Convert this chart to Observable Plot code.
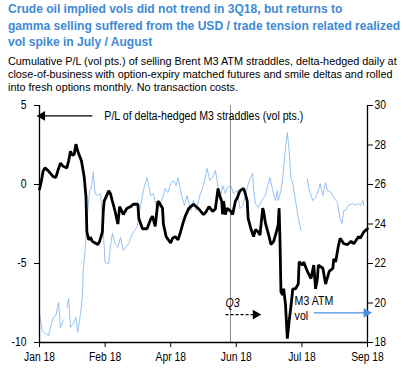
<!DOCTYPE html>
<html><head><meta charset="utf-8">
<script src="https://cdn.jsdelivr.net/npm/d3@7"></script>
<script src="https://cdn.jsdelivr.net/npm/@observablehq/plot@0.6"></script>
<style>
body{margin:0;background:#fff;width:410px;height:368px;overflow:hidden;position:relative;font-family:"Liberation Sans",Arial,sans-serif;}
#title{position:absolute;left:8px;top:1px;white-space:nowrap;color:#3d8ad6;font-weight:bold;font-size:12.8px;line-height:16.5px;transform-origin:0 0;}
#sub{position:absolute;left:8px;top:54px;white-space:nowrap;font-size:11.6px;line-height:13px;color:#000;transform-origin:0 0;}
#chart{position:absolute;left:0;top:95px;}
</style></head>
<body>
<div id="title">Crude oil implied vols did not trend in 3Q18, but returns to<br>gamma selling suffered from the USD / trade tension related realized<br>vol spike in July / August</div>
<div id="sub">Cumulative P/L (vol pts.) of selling Brent M3 ATM straddles, delta-hedged daily at<br>close-of-business with option-expiry matched futures and smile deltas and rolled<br>into fresh options monthly. No transaction costs.</div>
<div id="chart"></div>
<script>
// x axis: business-day index, labelled ticks
const tickDays = [0, 36, 72, 108, 144, 180];
const tickLabels = ["Jan 18", "Feb 18", "Apr 18", "Jun 18", "Jul 18", "Sep 18"];
const leftTicks = [-10, -5, 0, 5];
const rightTicks = [18, 20, 22, 24, 26, 28, 30];
const q3Day = 104.8;

// P/L of delta-hedged M3 straddles (vol pts.), left axis
const plDays = [0,1,2,3,5,6,7.5,9,10,11.5,13,15,16,17,18,19,20,21,23,24.5,25.5,26,27,28,29,30.5,32,33,34.5,35,35.5,38,39,40,41.5,43,44,46,48,50,51.5,54,54.5,56.5,59,61,62,63.5,65,66,67.5,68,69.5,72,73,74.5,76,77,79,80,82,83,84.5,87,88.5,90,91,93,95,96.5,98,99,100,100.5,101,102,103,105,106,107.5,108.5,110,112,113,114,114.5,116,117.5,118.5,120,121,122.5,123,124,126,127,128.5,130,131,131.5,132,132.5,133.5,134,135,136,137,138,139,140.5,142,142.5,143.5,144.5,145,147,149,150.5,151.5,152.5,153,155.5,157,159,161,161.5,162.5,164,165,167,169,171,172.5,175,176,178,180];
const plValues = [-0.3,0.2,0.85,1.05,0.85,0.7,0.5,0.45,0.85,1.35,1.15,1.05,1.5,2.1,1.85,1.9,2.55,2.1,1.5,0.5,-0.75,-3.0,-3.5,-3.35,-3.6,-3.7,-3.8,-3.6,-3.0,-1.7,-1.05,-0.4,-0.6,-1.05,-1.7,-2.5,-1.4,-1.9,-1.5,-1.4,-1.25,-1.25,-2.15,-2.8,-2.8,-2.2,-2.0,-2.65,-1.05,-1.2,-1.5,-2.5,-3.3,-3.7,-3.4,-3.3,-3.5,-3.15,-2.35,-2.0,-1.5,-1.4,-1.25,-1.5,-1.7,-1.9,-1.8,-1.4,-1.7,-1.55,-0.25,-0.75,-1.05,-1.9,-1.05,-1.9,-1.5,-1.7,-1.9,-1.05,-0.85,-0.4,-0.25,-0.6,-1.05,-2.15,-2.8,-3.3,-2.85,-3.0,-3.2,-1.5,-1.7,-2.45,-3.3,-3.8,-3.6,-3.0,-2.55,-1.5,-3.6,-6.8,-7.0,-6.6,-7.6,-9.75,-8.65,-7.7,-6.6,-6.6,-6.3,-4.9,-5.0,-5.1,-4.9,-5.5,-5.95,-5.1,-6.6,-5.95,-5.1,-5.3,-6.3,-5.5,-5.3,-4.7,-4.9,-3.9,-3.4,-3.75,-3.8,-3.6,-3.75,-3.3,-3.4,-3.0,-2.8];

// M3 ATM implied vol, right axis (null = missing)
const volDays = [0,1.5,3,5,6,7.5,9,10.5,11.5,13,14,15,16,17,18.5,20,21,22.5,23.5,24,25,26,27.5,28.5,29.5,30.5,32,33.5,34.5,36,38,39,40,41.5,43,44.5,46,49,51,53.5,55,57,59,61,62.5,64.5,66,68,69,70.5,72,73.5,75,76,78,79.5,81,83,84.5,86,88,90,92,93.5,95,96.5,97.5,99,100.5,102,103,105,106.5,108.5,110,111.5,113,114,115.5,117,117.5,118.5,120,122,124,125,126.5,128,129.5,130.5,131,132.5,133.5,135,136,137,138,139,140.5,142,143.5,145,147,148,150,151.5,153,154,155.5,157,158,160,161.5,163.5,165,166,167,168,169.5,172,173.5,175,176,177.5,178];
const volValues = [19.47,18.61,18.46,18.35,18.76,19.27,19.37,20.03,18.76,19.11,null,19.77,20.23,18.76,18.96,19.27,18.51,19.47,20.28,21.65,22.66,24.18,25.7,25.85,26.61,25.54,25.44,25.54,24.43,22.05,22.0,22.91,23.52,23.01,22.81,23.32,22.66,23.01,23.52,23.82,24.68,25.7,26.35,25.44,25.54,24.68,24.94,25.44,25.8,25.59,26.05,26.2,25.95,26.35,25.44,24.94,25.44,24.68,25.19,24.68,25.44,25.95,26.81,26.2,26.35,26.71,26.2,25.19,25.95,25.54,25.85,25.95,25.54,25.7,24.78,24.94,25.44,25.85,26.3,26.56,25.7,25.04,24.84,25.19,25.44,25.85,26.35,25.7,25.19,25.7,25.19,25.7,26.35,27.87,28.63,27.72,26.3,26.05,25.19,24.33,23.67,null,26.3,25.7,25.19,25.34,25.7,26.05,25.44,26.1,25.7,25.59,25.34,25.09,24.28,24.03,24.68,24.68,24.94,25.04,24.94,25.04,24.94,25.19,24.94];

const plData = plDays.map((d, i) => ({d, v: plValues[i]}));
const volData = volDays.map((d, i) => ({d, v: volValues[i]}));

// right-axis (vol) to left-axis (P/L) space
const toPL = v => (v - 18) / 12 * 15 - 10;
const fromPL = p => (p + 10) / 15 * 12 + 18;

const FONT = '"Liberation Sans",Arial,sans-serif';
const BLUE = "#4a90e0";
const LIGHT = "#7fb1ee";

const plArrow = [{x1: 29, x2: 1.5, y: 4.34}];
const q3Arrow = [{x1: 102.1, x2: 118.6, y: -8.23}];
const volArrow = [{x1: 150.5, x2: 179.4, y: -8.12}];

const chart = Plot.plot({
  width: 410, height: 272,
  marginTop: 10, marginBottom: 25, marginLeft: 39, marginRight: 43,
  x: {domain: [0, 180]},
  y: {domain: [-10, 5]},
  style: {fontFamily: FONT, fontSize: "12px", color: "#000", background: "#fff"},
  marks: [
    Plot.ruleX([q3Day], {stroke: "#8a8a8a", strokeWidth: 1}),
    Plot.line(volData, {x: "d", y: d => d.v == null ? NaN : toPL(d.v), stroke: LIGHT, strokeWidth: 0.8}),
    Plot.line(plData, {x: "d", y: "v", stroke: "#000", strokeWidth: 2.8, strokeLinejoin: "miter"}),
    Plot.ruleX([0, 180], {stroke: "#000", strokeWidth: 1.3}),
    Plot.ruleY([-10], {stroke: "#000", strokeWidth: 1.3}),
    Plot.axisY({anchor: "left", ticks: leftTicks, tickFormat: d => String(d), tickSize: 5, tickPadding: 8, label: null}),
    Plot.axisY({anchor: "right", ticks: rightTicks.map(toPL), tickFormat: d => String(Math.round(fromPL(d))), tickSize: 5, tickPadding: 2, label: null}),
    Plot.axisX({ticks: tickDays, tickFormat: (d) => tickLabels[tickDays.indexOf(d)], tickSize: 5, tickPadding: 5, label: null}),
    // P/L annotation
    Plot.link(plArrow, {x1: "x1", x2: "x2", y1: "y", y2: "y", stroke: "#000", strokeWidth: 1.2}),
    Plot.dot(plArrow, {x: "x2", y: "y", symbol: "triangle", rotate: -90, r: 3.6, fill: "#000", stroke: null}),
    Plot.text(["P/L of delta-hedged M3 straddles (vol pts.)"], {x: 35.6, y: 4.34, textAnchor: "start", fontSize: 12.3}),
    // Q3 annotation
    Plot.link(q3Arrow, {x1: "x1", x2: "x2", y1: "y", y2: "y", stroke: "#000", strokeWidth: 1.2, strokeDasharray: "3,2"}),
    Plot.dot(q3Arrow, {x: "x2", y: "y", symbol: "triangle", rotate: 90, r: 3.6, fill: "#000", stroke: null}),
    Plot.text(["Q3"], {x: 102.1, y: -7.5, textAnchor: "start", fontSize: 12.3, fontStyle: "italic"}),
    // M3 ATM vol annotation
    Plot.text(["M3 ATM"], {x: 140, y: -7.36, textAnchor: "start", fontSize: 12.3}),
    Plot.text(["vol"], {x: 140, y: -8.3, textAnchor: "start", fontSize: 12.3}),
    Plot.link(volArrow, {x1: "x1", x2: "x2", y1: "y", y2: "y", stroke: BLUE, strokeWidth: 1.2}),
    Plot.dot(volArrow, {x: "x2", y: "y", symbol: "triangle", rotate: 90, r: 3.6, fill: BLUE, stroke: null})
  ]
});
document.getElementById("chart").appendChild(chart);

// the reference uses a horizontally condensed face: condense text to match
const t = document.getElementById("title");
t.style.transform = `scaleX(${392 / t.offsetWidth})`;
const s = document.getElementById("sub");
s.style.transform = `scaleX(${389 / s.offsetWidth})`;
chart.querySelectorAll("text").forEach(el => {
  const L = el.getComputedTextLength();
  if (L > 0) {
    el.setAttribute("textLength", (L * 0.86).toFixed(1));
    el.setAttribute("lengthAdjust", "spacingAndGlyphs");
  }
});
</script>
</body></html>
